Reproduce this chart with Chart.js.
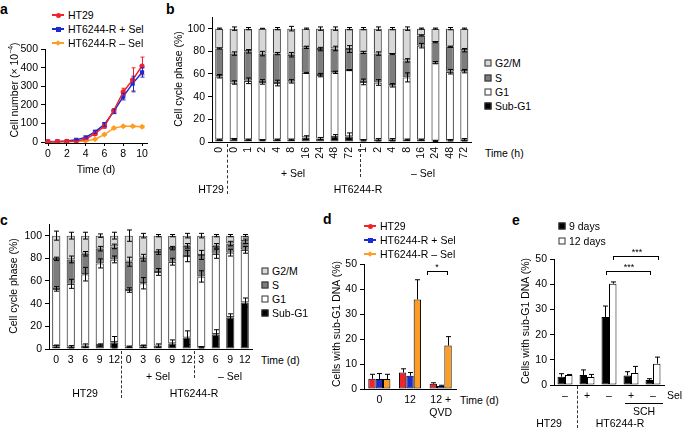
<!DOCTYPE html>
<html>
<head>
<meta charset="utf-8">
<script src="https://cdn.jsdelivr.net/npm/chart.js@4.4.1/dist/chart.umd.min.js"></script>
<style>
  html, body { margin: 0; padding: 0; background: #fff; }
  #fig { position: relative; width: 685px; height: 430px; overflow: hidden;
         font-family: "Liberation Sans", Arial, Helvetica, sans-serif; font-size: 10.5px; color: #000; }
  canvas { position: absolute; }
  .t { position: absolute; white-space: nowrap; line-height: 1; }
  .c { transform: translate(-50%, -50%); }
  .l { transform: translateY(-50%); }
  .yt { transform: translate(-50%, -50%) rotate(-90deg); }
  .pl { position: absolute; font-weight: bold; font-size: 14px; line-height: 1; }
  .dash { position: absolute; width: 0; border-left: 1px dashed #333; }
  .sq { position: absolute; width: 5px; height: 5px; border: 1px solid #333; transform: translate(-50%, -50%); }
  .br { position: absolute; height: 3px; border: 1px solid #000; border-bottom: none; }
  .hl { position: absolute; height: 0; border-top: 1px solid #000; }
  .star { font-size: 9px; }
</style>
</head>
<body>
<div id="fig"></div>
<script>
  // ---- panel a : growth curves (cell number x 10^-4)
  const daysA = [0, 1, 2, 3, 4, 5, 6, 7, 8, 9, 10];
  const dayTicksA = [0, 2, 4, 6, 8, 10];
  const countTicksA = [0, 100, 200, 300, 400, 500];
  const ht29A = [2, 2, 3, 5, 15, 45, 85, 170, 270, 335, 410];
  const ht29ErrA = [0, 0, 0, 1, 3, 6, 10, 10, 20, 65, 48];
  const selPlusA = [2, 3, 5, 12, 25, 55, 95, 165, 245, 315, 375];
  const selPlusErrA = [0, 0, 0, 2, 4, 8, 10, 12, 18, 40, 25];
  const selMinusA = [1, 1, 2, 3, 5, 15, 40, 75, 85, 85, 82];
  const selMinusErrA = [0, 0, 0, 0, 1, 2, 4, 5, 5, 5, 6];

  // ---- panel b : cell cycle phases, time in hours
  const timesB = ["0", "0", "1", "2", "4", "8", "16", "24", "48", "72", "1", "2", "4", "8", "16", "24", "48", "72"];
  const phaseTicks = [0, 20, 40, 60, 80, 100];
  const subG1B = [2, 2.5, 2, 1.5, 2, 2, 4, 3, 4.5, 5, 1.5, 2, 2, 2, 2, 1, 1.5, 2];
  const g1B = [56, 50, 52, 51.5, 50, 51.5, 57, 56, 57, 58.5, 51.5, 50.5, 48, 55, 83, 69, 60.5, 60.5];
  const sB = [24.5, 25.5, 26, 25, 26, 23.5, 22.5, 23, 21, 18.5, 26, 25.5, 27.5, 15, 9, 18, 22, 18.5];
  const g2mB = [17.5, 22, 20, 22, 22, 23, 16.5, 18, 17.5, 18, 21, 22, 22.5, 28, 6, 12, 16, 19];
  const subG1ErrB = [0.5, 0.5, 0.5, 0.3, 0.5, 0.5, 1.5, 1, 2, 3, 0.5, 1, 1, 0.5, 0.5, 0.5, 0.5, 1];
  const g1ErrB = [1.5, 1.5, 2.5, 2, 2.5, 1.5, 0.5, 1.5, 1, 0.5, 2.5, 2.5, 1.5, 4, 2, 1, 2, 1.5];
  const sErrB = [0.5, 1.5, 1.5, 2, 1, 2, 1, 1.5, 2, 3, 1, 1.5, 0.5, 1.5, 0.5, 0.5, 0.5, 1.5];
  const g2mErrB = [0.5, 1.5, 1, 0.3, 1, 2, 0.5, 1.5, 1.5, 1, 1, 1.5, 1, 1.5, 0.5, 0.5, 1, 0.5];

  // ---- panel c : cell cycle phases, time in days
  const timesC = ["0", "3", "6", "9", "12", "0", "3", "6", "9", "12", "3", "6", "9", "12"];
  const subG1C = [2.5, 2, 3, 3.5, 6, 2, 2.5, 3, 5, 10, 1.5, 13, 28, 41];
  const g1C = [50.5, 55.5, 63, 72, 73, 50, 55.5, 65, 72, 72, 62.5, 71, 57, 46.5];
  const sC = [26.5, 21.5, 18, 13, 11.5, 25, 22.5, 17.5, 12, 9, 19, 7, 8, 7.5];
  const g2mC = [20.5, 21, 16, 11.5, 9.5, 23, 19.5, 14.5, 11, 9, 17, 9, 7, 5];
  const subG1ErrC = [1, 1, 1.5, 1, 5, 0.5, 1, 1.5, 3, 6, 0.5, 4, 3, 4];
  const g1ErrC = [2, 4, 6, 4, 3, 2, 5, 3, 3, 5, 5, 4, 3, 3];
  const sErrC = [1.5, 3, 2, 2, 2, 4, 3, 2, 1.5, 2, 4, 2, 2, 2];
  const g2mErrC = [4, 3, 3, 1.5, 3, 5, 2, 1, 1, 2, 2, 1, 1, 1];

  // ---- panel d : sub-G1 DNA (%)
  const groupsD = ["0", "12", ["12 +", "QVD"]];
  const pctTicks = [0, 10, 20, 30, 40, 50];
  const ht29D = [4.1, 6.6, 2.1];
  const ht29ErrD = [1.8, 1.5, 0.4];
  const selPlusD = [4.0, 5.3, 1.2];
  const selPlusErrD = [2.2, 1.3, 0.3];
  const selMinusD = [4.0, 35.9, 17.4];
  const selMinusErrD = [1.9, 7.9, 3.6];

  // ---- panel e : sub-G1 DNA (%), with / without Sel and SCH
  const groupsE = ["–", "+", "–", "+", "–"];
  const nineDaysE = [3.3, 4.0, 27.0, 3.8, 2.0];
  const nineDaysErrE = [1.2, 2.0, 4.4, 1.5, 0.5];
  const twelveDaysE = [4.0, 3.2, 40.3, 4.8, 8.5];
  const twelveDaysErrE = [0.2, 1.0, 0.7, 2.6, 2.6];

  const RED = "#f2222b";
  const BLUE = "#1b2bd0";
  const ORANGE = "#ff9c22";
  const C_G2M = "#d8d8d8";
  const C_S = "#7d7d7d";
  const C_G1 = "#ffffff";
  const C_SUB = "#000000";
  const EDGE = "#444444";

  Chart.defaults.font.family = '"Liberation Sans", Arial, Helvetica, sans-serif';
  Chart.defaults.font.size = 10.5;
  Chart.defaults.color = "#000";
  Chart.defaults.animation = false;
  Chart.defaults.responsive = false;
  Chart.defaults.plugins.legend.display = false;
  Chart.defaults.plugins.tooltip.enabled = false;

  const fig = document.getElementById("fig");

  // canvas sized so that the chart area lands on the given box
  function frame(area, yW, xH, pad) {
    const c = document.createElement("canvas");
    const w = area.r - area.l + yW + pad.left + pad.right;
    const h = area.b - area.t + xH + pad.top + pad.bottom;
    c.width = w;
    c.height = h;
    c.style.left = (area.l - yW - pad.left) + "px";
    c.style.top = (area.t - pad.top) + "px";
    c.style.width = w + "px";
    c.style.height = h + "px";
    fig.appendChild(c);
    return c;
  }

  function put(cls, x, y, html, extra) {
    const d = document.createElement("div");
    d.className = cls;
    d.style.left = x + "px";
    d.style.top = y + "px";
    if (extra) d.style.cssText += extra;
    d.innerHTML = html;
    fig.appendChild(d);
    return d;
  }

  function yAxis(min, max, tickVals, yW) {
    return {
      min: min,
      max: max,
      afterBuildTicks: (s) => { s.ticks = tickVals.map((v) => ({ value: v })); },
      ticks: { padding: 3 },
      grid: { display: true, drawOnChartArea: false, tickLength: 4, color: "#000" },
      border: { display: true, color: "#000" },
      afterFit: (s) => { s.width = yW; },
    };
  }

  function catAxis(xH, stacked, rotate) {
    return {
      stacked: stacked,
      grid: { display: false, drawTicks: false },
      border: { display: true, color: "#000" },
      ticks: {
        autoSkip: false,
        padding: 5,
        maxRotation: rotate ? 90 : 0,
        minRotation: rotate ? 90 : 0,
      },
      afterFit: (s) => { s.height = xH; },
    };
  }

  // vertical error bars read from dataset.errors
  const errorBars = {
    id: "errorBars",
    afterDatasetsDraw(chart) {
      const { ctx } = chart;
      const y = chart.scales.y;
      ctx.save();
      chart.data.datasets.forEach((ds, i) => {
        if (!ds.errors) return;
        const meta = chart.getDatasetMeta(i);
        meta.data.forEach((el, j) => {
          const e = ds.errors[j];
          if (!e) return;
          const h = Math.abs(y.getPixelForValue(e) - y.getPixelForValue(0));
          const x = Math.round(el.x) + 0.5;
          const top = el.y - h;
          const bot = ds.errUp ? el.y : el.y + h;
          const cap = ds.errCap || 2.5;
          ctx.strokeStyle = ds.errColor || "#000";
          ctx.lineWidth = 1;
          ctx.beginPath();
          ctx.moveTo(x, top);
          ctx.lineTo(x, bot);
          ctx.moveTo(x - cap, top);
          ctx.lineTo(x + cap, top);
          if (!ds.errUp) {
            ctx.moveTo(x - cap, bot);
            ctx.lineTo(x + cap, bot);
          }
          ctx.stroke();
        });
      });
      ctx.restore();
    },
  };

  // ===== panel a
  function growth(vals, errs, color, shape, r) {
    return {
      data: daysA.map((d, i) => ({ x: d, y: vals[i] })),
      errors: errs,
      errColor: color,
      errCap: 2,
      borderColor: color,
      backgroundColor: color,
      borderWidth: 1.5,
      pointStyle: shape,
      pointRadius: r,
      pointBorderWidth: 0,
      tension: 0,
    };
  }
  const areaA = { l: 45, t: 48, r: 147, b: 143 };
  const padA = { left: 2, top: 8, right: 8, bottom: 2 };
  new Chart(frame(areaA, 30, 20, padA), {
    type: "line",
    data: {
      datasets: [
        growth(ht29A, ht29ErrA, RED, "circle", 2.6),
        growth(selPlusA, selPlusErrA, BLUE, "rect", 3),
        growth(selMinusA, selMinusErrA, ORANGE, "rectRot", 3),
      ],
    },
    options: {
      layout: { padding: padA },
      scales: {
        x: {
          type: "linear",
          min: -0.32,
          max: 10.53,
          afterBuildTicks: (s) => { s.ticks = dayTicksA.map((v) => ({ value: v })); },
          ticks: { padding: 2 },
          grid: { display: true, drawOnChartArea: false, tickLength: 3, color: "#000" },
          border: { display: true, color: "#000" },
          afterFit: (s) => { s.height = 20; },
        },
        y: yAxis(-5.3, 500, countTicksA, 30),
      },
    },
    plugins: [errorBars],
  });

  // ===== panels b and c : stacked phases
  function phases(sub, g1, s, g2m, eSub, eG1, eS, eG2m, pct) {
    const base = {
      borderColor: EDGE, borderWidth: 1.2, borderSkipped: false,
      barPercentage: 1, categoryPercentage: pct,
    };
    return [
      Object.assign({ label: "Sub-G1", data: sub, errors: eSub, backgroundColor: C_SUB }, base),
      Object.assign({ label: "G1", data: g1, errors: eG1, backgroundColor: C_G1 }, base),
      Object.assign({ label: "S", data: s, errors: eS, backgroundColor: C_S }, base),
      Object.assign({ label: "G2/M", data: g2m, errors: eG2m, backgroundColor: C_G2M }, base),
    ];
  }

  const areaB = { l: 212, t: 16, r: 478, b: 142 };
  const padB = { left: 2, top: 8, right: 4, bottom: 2 };
  new Chart(frame(areaB, 30, 24, padB), {
    type: "bar",
    data: {
      labels: timesB,
      datasets: phases(subG1B, g1B, sB, g2mB, subG1ErrB, g1ErrB, sErrB, g2mErrB, 0.56),
    },
    options: {
      layout: { padding: padB },
      scales: {
        x: catAxis(24, true, true),
        y: Object.assign(yAxis(0, 110, phaseTicks, 30), { stacked: true }),
      },
    },
    plugins: [errorBars],
  });

  const areaC = { l: 49, t: 223, r: 252, b: 349 };
  const padC = { left: 2, top: 8, right: 4, bottom: 2 };
  new Chart(frame(areaC, 30, 20, padC), {
    type: "bar",
    data: {
      labels: timesC,
      datasets: phases(subG1C, g1C, sC, g2mC, subG1ErrC, g1ErrC, sErrC, g2mErrC, 0.57),
    },
    options: {
      layout: { padding: padC },
      scales: {
        x: catAxis(20, true, false),
        y: Object.assign(yAxis(0, 110, phaseTicks, 30), { stacked: true }),
      },
    },
    plugins: [errorBars],
  });

  // ===== panel d
  function bars(label, vals, errs, color) {
    return {
      label: label, data: vals, errors: errs, errUp: true,
      backgroundColor: color, borderColor: "#000", borderWidth: 1, borderSkipped: false,
    };
  }
  const areaD = { l: 364, t: 263, r: 456, b: 389 };
  const padD = { left: 2, top: 8, right: 4, bottom: 2 };
  new Chart(frame(areaD, 24, 32, padD), {
    type: "bar",
    data: {
      labels: groupsD,
      datasets: [
        bars("HT29", ht29D, ht29ErrD, RED),
        bars("HT6244-R + Sel", selPlusD, selPlusErrD, BLUE),
        bars("HT6244-R – Sel", selMinusD, selMinusErrD, ORANGE),
      ],
    },
    options: {
      layout: { padding: padD },
      datasets: { bar: { barPercentage: 1, categoryPercentage: 0.72 } },
      scales: {
        x: catAxis(32, false, false),
        y: yAxis(0, 50, pctTicks, 24),
      },
    },
    plugins: [errorBars],
  });

  // ===== panel e
  const areaE = { l: 554, t: 258, r: 664, b: 385 };
  const padE = { left: 2, top: 8, right: 4, bottom: 2 };
  new Chart(frame(areaE, 24, 16, padE), {
    type: "bar",
    data: {
      labels: groupsE,
      datasets: [
        bars("9 days", nineDaysE, nineDaysErrE, "#000"),
        bars("12 days", twelveDaysE, twelveDaysErrE, "#fff"),
      ],
    },
    options: {
      layout: { padding: padE },
      datasets: { bar: { barPercentage: 1, categoryPercentage: 0.68 } },
      scales: {
        x: catAxis(16, false, false),
        y: yAxis(0, 50, pctTicks, 24),
      },
    },
    plugins: [errorBars],
  });

  // ===== labels, legends and annotations
  function lineKey(x, y, color, shape, label) {
    put("t", x - 6, y - 0.75, "", `width:12px;height:1.5px;background:${color}`);
    let st = `width:5px;height:5px;background:${color};`;
    if (shape === "circle") st += "border-radius:50%;";
    if (shape === "diamond") st += "transform:rotate(45deg);width:4px;height:4px;";
    const off = shape === "diamond" ? 2 : 2.5;
    put("t", x - off, y - off, "", st);
    put("t l", x + 10, y, label);
  }
  function boxKey(x, y, color, label) {
    put("sq", x, y, "", `background:${color}`);
    put("t l", x + 7, y, label);
  }

  // panel letters
  put("pl", 0, 2, "a");
  put("pl", 166, 2, "b");
  put("pl", 0, 213, "c");
  put("pl", 323, 212, "d");
  put("pl", 512, 213, "e");

  // a
  lineKey(58, 15, RED, "circle", "HT29");
  lineKey(58, 29, BLUE, "square", "HT6244-R + Sel");
  lineKey(58, 43, ORANGE, "diamond", "HT6244-R – Sel");
  put("t yt", 12.5, 90, "Cell number (× 10<sup style='font-size:7px'>−4</sup>)");
  put("t c", 96, 169, "Time (d)");

  // b
  put("t yt", 178, 79, "Cell cycle phase (%)");
  put("t l", 485, 153, "Time (h)");
  put("t c", 293, 173, "+ Sel");
  put("t c", 423, 173, "– Sel");
  put("t c", 211, 189, "HT29");
  put("t c", 358, 189, "HT6244-R");
  put("dash", 227, 144, "", "height:50px");
  put("dash", 360, 144, "", "height:33px");
  boxKey(488, 63, C_G2M, "G2/M");
  boxKey(488, 78, C_S, "S");
  boxKey(488, 92, C_G1, "G1");
  boxKey(488, 106, C_SUB, "Sub-G1");

  // c
  put("t yt", 12.5, 286, "Cell cycle phase (%)");
  put("t l", 261, 360, "Time (d)");
  put("t c", 158, 376, "+ Sel");
  put("t c", 230, 376, "– Sel");
  put("t c", 85, 393, "HT29");
  put("t c", 194, 393, "HT6244-R");
  put("dash", 121, 351, "", "height:47px");
  put("dash", 194, 351, "", "height:27px");
  boxKey(265, 271, C_G2M, "G2/M");
  boxKey(265, 285, C_S, "S");
  boxKey(265, 299, C_G1, "G1");
  boxKey(265, 313, C_SUB, "Sub-G1");

  // d
  put("t yt", 336, 324, "Cells with sub-G1 DNA (%)");
  put("t l", 460, 400, "Time (d)");
  lineKey(370, 226, RED, "circle", "HT29");
  lineKey(370, 240, BLUE, "square", "HT6244-R + Sel");
  lineKey(370, 254, ORANGE, "diamond", "HT6244-R – Sel");
  put("br", 427, 271, "", "width:19px");
  put("t c star", 437, 267, "*");

  // e
  put("t yt", 525, 321, "Cells with sub-G1 DNA (%)");
  boxKey(562, 226, "#000", "9 days");
  boxKey(562, 241, "#fff", "12 days");
  put("br", 613, 256, "", "width:44px");
  put("t c star", 637, 252, "***");
  put("br", 606, 271, "", "width:43px");
  put("t c star", 629, 267, "***");
  put("t l", 667, 395, "Sel");
  put("hl", 625, 403, "", "width:38px");
  put("t c", 644, 411, "SCH");
  put("t c", 549, 423, "HT29");
  put("t c", 620, 423, "HT6244-R");
  put("dash", 577, 386, "", "height:42px");
</script>
</body>
</html>
